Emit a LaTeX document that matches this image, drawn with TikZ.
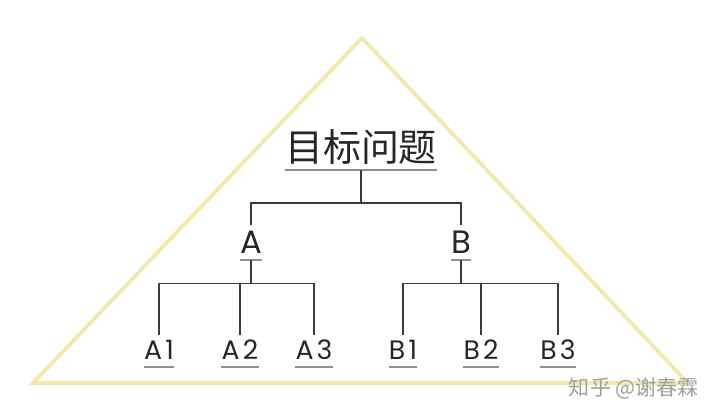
\documentclass[tikz,border=0pt]{standalone}
\usepackage{fontspec}
\usepackage{tikz}
\usetikzlibrary{positioning}
\newfontfamily\cjk{Noto Sans CJK SC}
\newfontfamily\geo{Poppins}
\newfontfamily\geowide{Poppins}[LetterSpace=12]
\definecolor{trimline}{HTML}{F3E7AA}
\definecolor{linegray}{HTML}{3C3C3C}
\definecolor{ulgray}{HTML}{909090}
\definecolor{wmgray}{HTML}{A0A0A0}

\begin{document}
\begin{tikzpicture}[x=0.025cm, y=-0.025cm,
    link/.style={draw=linegray, line width=1.1pt},
    uline/.style={draw=ulgray, line width=1.3pt},
    goalbox/.style={font=\cjk\fontsize{27}{27}\selectfont, text=black!85, inner sep=0pt, text height=23.8pt, text depth=6pt, anchor=base},
    midbox/.style={font=\geo\fontsize{23}{23}\selectfont, text=black!85, inner sep=0pt, text height=19.9pt, text depth=5pt, anchor=base},
    leafbox/.style={font=\geowide\fontsize{19}{19}\selectfont, text=black!85, inner sep=0pt, text height=17.1pt, text depth=5.7pt, anchor=base},
    wmark/.style={font=\cjk\fontsize{15}{15}\selectfont, text=wmgray, inner sep=0pt}]
    \useasboundingbox (0,0) rectangle (720,419);

    % triangle frame
    \coordinate (apex) at (362,38);
    \coordinate (lcorner) at (33,383);
    \coordinate (rcorner) at (688,383);
    \draw[trimline, line width=2.6pt, line join=miter] (apex) -- (rcorner) -- (lcorner) -- cycle;

    % tree
    \node[goalbox] (goal) at (361,161.5) {目标问题};
    \node[midbox] (A) at (251,253) {A};
    \node[midbox] (B) at (461,253) {B};
    \node[leafbox] (A1) at (159,359) {A1};
    \node[leafbox] (A2) at (240,359) {A2};
    \node[leafbox] (A3) at (314,359) {A3};
    \node[leafbox] (B1) at (403,359) {B1};
    \node[leafbox] (B2) at (481,359) {B2};
    \node[leafbox] (B3) at (558,359) {B3};

    \foreach \n in {goal,A,B,A1,A2,A3,B1,B2,B3}
        \draw[uline] (\n.south west) -- (\n.south east);

    \draw[link] (goal.south) -- ++(0,33) coordinate (gj);
    \draw[link] (A.north) |- (gj) -| (B.north);
    \foreach \p in {A,B} {
        \draw[link] (\p.south) -- ++(0,23) coordinate (\p j);
        \draw[link] (\p1.north) |- (\p j) -| (\p3.north);
        \draw[link] (\p2.north) -- (\p2.north |- \p j);
    }

    \node[wmark] (credit) at (634,388) {知乎 @谢春霖};
\end{tikzpicture}
\end{document}
